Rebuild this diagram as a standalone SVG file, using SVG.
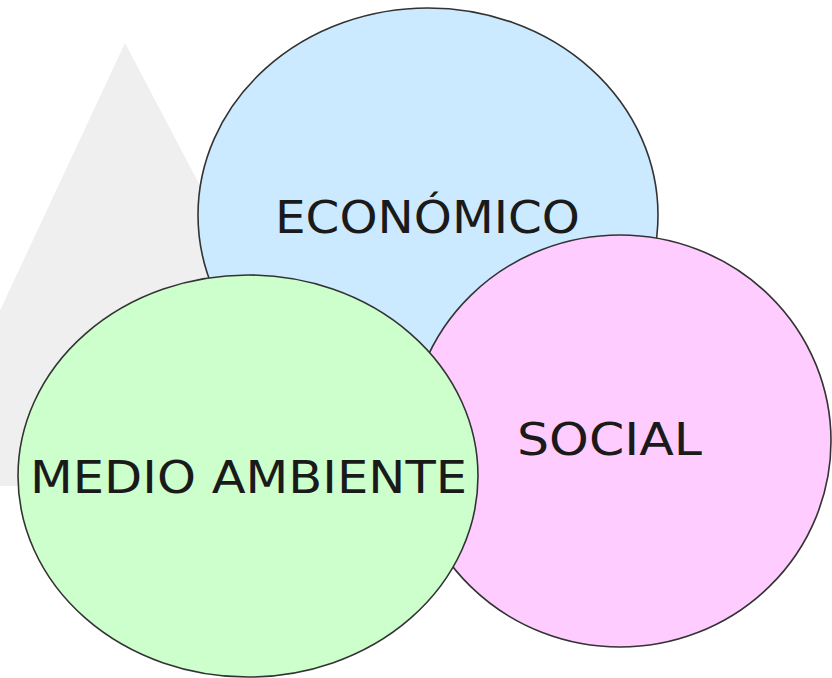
<svg xmlns="http://www.w3.org/2000/svg" width="832" height="678" viewBox="0 0 832 678">
<style>
.c{stroke:#333;stroke-width:1.6}
.t{font-family:"DejaVu Sans",Verdana,sans-serif;font-size:45px;fill:#1a1a1a}
</style>
<rect width="832" height="678" fill="#fff"/>
<polygon points="125,43 -82,486 358,486" fill="#efefef"/>
<g id="economico">
<ellipse class="c" cx="428" cy="215" rx="230" ry="207" fill="#cceaff"/>
<text class="t" x="275" y="233" textLength="305" lengthAdjust="spacingAndGlyphs">ECONÓMICO</text>
</g>
<g id="social">
<ellipse class="c" cx="620" cy="441" rx="211" ry="206" fill="#ffccff"/>
<text class="t" x="517" y="455" textLength="185" lengthAdjust="spacingAndGlyphs">SOCIAL</text>
</g>
<g id="medio-ambiente">
<ellipse class="c" cx="248" cy="476" rx="230" ry="201" fill="#ccffcc"/>
<text class="t" x="30" y="493" textLength="437" lengthAdjust="spacingAndGlyphs">MEDIO  AMBIENTE</text>
</g>
<g id="connectors"/>
</svg>
